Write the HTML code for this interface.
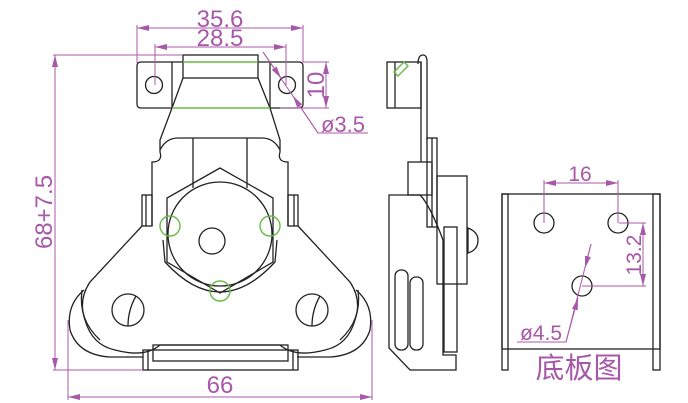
<!DOCTYPE html>
<html><head><meta charset="utf-8"><style>html,body{margin:0;padding:0;background:#fff}svg{display:block}</style></head>
<body>
<svg width="688" height="403" viewBox="0 0 688 403" xmlns="http://www.w3.org/2000/svg">
<defs>
<marker id="a" viewBox="0 0 12 6" refX="12" refY="3" markerWidth="12" markerHeight="6" orient="auto-start-reverse" markerUnits="userSpaceOnUse"><path d="M0,0L12,3L0,6z" fill="#a858a8"/></marker>
</defs>
<g fill="none" stroke="#222" stroke-width="1.3">
<path d="M183,62 L141,62 Q137,62 137,66 L137,104 Q137,108 141,108 L172,108"/>
<line x1="172" y1="62" x2="172" y2="108"/>
<rect x="183" y="55" width="75" height="23"/>
<path d="M258,62 L299,62 Q303,62 303,66 L303,104 Q303,108 299,108 L270,108"/>
<line x1="270" y1="62" x2="270" y2="108"/>
<circle cx="154" cy="85" r="8.5"/><circle cx="287" cy="85" r="8.5"/>
<path d="M183,78 L172,108 L160,140 L160,152 Q163,162 152,162 L152,226"/>
<path d="M258,78 L270,108 L280,140 L280,152 Q277,162 288,162 L288,226"/>
<path d="M160,150 Q166,138 178,138 L262,138 Q274,138 280,150"/>
<line x1="193" y1="138" x2="193" y2="188"/><line x1="247" y1="138" x2="247" y2="188"/>
<rect x="142" y="195" width="10" height="31"/><line x1="146" y1="195" x2="146" y2="226"/>
<rect x="288" y="195" width="10" height="31"/><line x1="294" y1="195" x2="294" y2="226"/>
<path d="M220,168 L167,198 L167,262 L220,293 L273,262 L273,198 Z"/>
<circle cx="220" cy="234" r="52"/>
<circle cx="212" cy="241" r="13"/>
<path d="M163,240 L165,262 Q220,322 275,262 L277,240"/>
<path d="M142,226 L90,282 Q78,300 85,320 Q92,345 115,350 Q145,358 160,345 L280,345 Q295,358 325,350 Q348,345 355,320 Q362,300 350,282 L298,226"/>
<path d="M84,290 Q66,305 70,330 Q78,355 110,357 L143,357"/>
<path d="M356,290 Q374,305 370,330 Q362,355 330,357 L297,357"/>
<path d="M82,290 Q78,320 100,340" />
<path d="M358,290 Q362,320 340,340" />
<circle cx="128" cy="310" r="16"/><path d="M136,296 Q128,310 128,326"/>
<circle cx="312" cy="310" r="16"/><path d="M320,296 Q312,310 312,326"/>
<rect x="153" y="345" width="135" height="16"/>
<rect x="143" y="350" width="155" height="20"/>
<line x1="148" y1="350" x2="148" y2="370"/><line x1="293" y1="350" x2="293" y2="370"/>
<rect x="387" y="62" width="34" height="46"/><line x1="395" y1="62" x2="395" y2="108"/>
<path d="M418,64 Q418,55 423,55 Q427,55 427,62 L427,140"/>
<line x1="421" y1="62" x2="421" y2="162"/>
<rect x="427" y="138" width="10" height="89"/><line x1="432" y1="138" x2="432" y2="227"/>
<rect x="408" y="162" width="24" height="33"/>
<rect x="437" y="176" width="30" height="108"/>
<path d="M389,195 L389,348 L410,370 L456,370 L456,355 L443,355 L443,240 Q430,205 420,195 Z"/>
<rect x="444" y="227" width="13" height="125"/>
<path d="M468,228 Q478,232 478,240 Q478,250 468,253 Z"/>
<rect x="395" y="270" width="13" height="80" rx="6"/>
<rect x="410" y="277" width="13" height="73" rx="6"/>
<rect x="502" y="194" width="158" height="155"/>
<rect x="502" y="194" width="6" height="176"/><rect x="653" y="194" width="7" height="176"/>
<circle cx="544" cy="223" r="10"/><circle cx="618" cy="223" r="10"/><circle cx="582" cy="286" r="10"/>
</g>
<g fill="none" stroke="#66bb44" stroke-width="1.4">
<line x1="183" y1="62" x2="258" y2="62"/><line x1="172" y1="108" x2="270" y2="108"/>
<circle cx="170" cy="226" r="10"/><circle cx="270" cy="226" r="10"/><circle cx="220" cy="291" r="10"/>
<path d="M394,72 L404,62 L408,66 L398,76 Z"/>
</g>
<g fill="none" stroke="#a858a8" stroke-width="1">
<line x1="137" y1="28" x2="303" y2="28" marker-start="url(#a)" marker-end="url(#a)"/>
<line x1="137" y1="25" x2="137" y2="63"/><line x1="303" y1="25" x2="303" y2="62"/>
<line x1="155" y1="47" x2="286" y2="47" marker-start="url(#a)" marker-end="url(#a)"/>
<line x1="155" y1="44" x2="155" y2="85"/><line x1="286" y1="44" x2="286" y2="85"/>
<line x1="55" y1="55" x2="55" y2="370" marker-start="url(#a)" marker-end="url(#a)"/>
<line x1="53" y1="55" x2="183" y2="55"/><line x1="53" y1="370" x2="143" y2="370"/>
<line x1="68" y1="397" x2="372" y2="397" marker-start="url(#a)" marker-end="url(#a)"/>
<line x1="68" y1="320" x2="68" y2="400"/><line x1="372" y1="320" x2="372" y2="400"/>
<line x1="326" y1="62" x2="326" y2="108" marker-start="url(#a)" marker-end="url(#a)"/>
<line x1="303" y1="62" x2="329" y2="62"/><line x1="280" y1="108" x2="329" y2="108"/>
<path d="M263,52 L318,133 L368,133"/>
<line x1="263" y1="52" x2="281" y2="78" marker-end="url(#a)"/>
<line x1="318" y1="133" x2="293" y2="96" marker-end="url(#a)"/>
<line x1="544" y1="183" x2="618" y2="183" marker-start="url(#a)" marker-end="url(#a)"/>
<line x1="544" y1="180" x2="544" y2="223"/><line x1="618" y1="180" x2="618" y2="223"/>
<line x1="643" y1="223" x2="643" y2="286" marker-start="url(#a)" marker-end="url(#a)"/>
<line x1="619" y1="223" x2="646" y2="223"/><line x1="582" y1="286" x2="646" y2="286"/>
<path d="M591,244 L566,342 L517,342"/>
<line x1="591" y1="244" x2="585" y2="268" marker-end="url(#a)"/>
<line x1="566" y1="342" x2="578" y2="298" marker-end="url(#a)"/>
</g>
<g fill="#a858a8" font-family="Liberation Sans, sans-serif" font-size="24" text-anchor="middle">
<text x="220" y="27">35.6</text>
<text x="220" y="46">28.5</text>
<text x="220" y="393">66</text>
<text x="343" y="132" font-size="22">ø3.5</text>
<text x="580" y="181" font-size="21">16</text>
<text x="541" y="340" font-size="21">ø4.5</text>
<text transform="translate(52,212) rotate(-90)">68+7.5</text>
<text transform="translate(324,85) rotate(-90)">10</text>
<text transform="translate(641,255) rotate(-90)" font-size="21">13.2</text>
<text x="579" y="378" font-size="29" font-family="Liberation Sans, Noto Sans CJK SC, sans-serif">底板图</text>
</g>
</svg>
</body></html>
